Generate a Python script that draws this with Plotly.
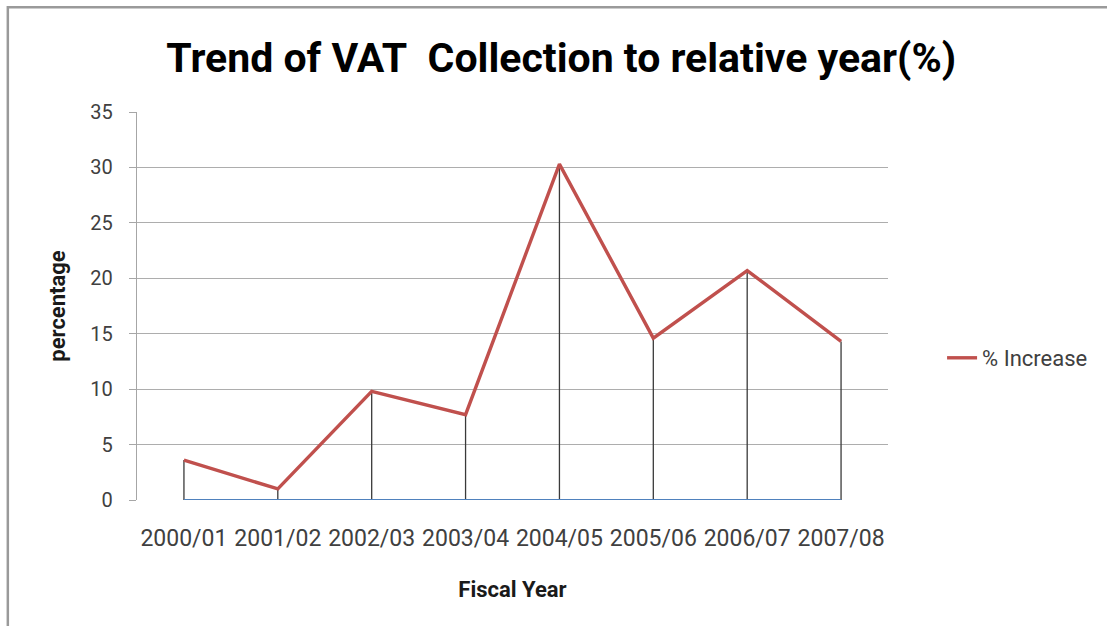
import plotly.graph_objects as go

years = ["2000/01", "2001/02", "2002/03", "2003/04", "2004/05", "2005/06", "2006/07", "2007/08"]
pct_increase = [3.6, 1.0, 9.8, 7.7, 30.3, 14.6, 20.7, 14.3]
y_ticks = [0, 5, 10, 15, 20, 25, 30, 35]

FONT = "Roboto, sans-serif"

# drop lines built from the data
drop_x, drop_y = [], []
for yr, v in zip(years, pct_increase):
    drop_x += [yr, yr, None]
    drop_y += [0, v, None]

fig = go.Figure()
fig.add_trace(go.Scatter(x=drop_x, y=drop_y, mode="lines",
                         line=dict(color="#3a3a3a", width=1.3),
                         showlegend=False, hoverinfo="skip"))
fig.add_trace(go.Scatter(x=years, y=[0] * len(years), mode="lines",
                         line=dict(color="#4F81BD", width=2),
                         showlegend=False, hoverinfo="skip"))
fig.add_trace(go.Scatter(x=years, y=pct_increase, mode="lines",
                         name="% Increase",
                         line=dict(color="#C0504D", width=3.4)))

fig.update_layout(
    width=1107, height=626,
    margin=dict(l=137, r=219, t=112, b=126),
    paper_bgcolor="white", plot_bgcolor="white",
    font=dict(family=FONT, color="#404040", size=20),
    title=dict(text="<b>Trend of VAT&nbsp; Collection to relative year(%)</b>",
               x=0.507, xref="container", xanchor="center",
               y=1 - 58 / 626, yref="container", yanchor="middle",
               font=dict(size=41, color="black", family=FONT)),
    xaxis=dict(type="category", range=[-0.5, 7.5], showgrid=False,
               showline=False, ticks="", zeroline=False,
               ticklabelstandoff=22,
               tickfont=dict(size=23, color="#404040"),
               title=dict(text="<b>Fiscal Year</b>", standoff=30,
                          font=dict(size=22, color="#1a1a1a"))),
    yaxis=dict(range=[0, 35], tickvals=y_ticks, showgrid=True,
               gridcolor="#ADADAD", gridwidth=1.3, zeroline=False,
               showline=True, linecolor="#A6A6A6", linewidth=1.3,
               ticks="outside", ticklen=7, tickcolor="#A6A6A6",
               ticklabelstandoff=12,
               tickfont=dict(size=20, color="#404040"),
               title=dict(text="<b>percentage</b>", standoff=18,
                          font=dict(size=22, color="#1a1a1a"))),
    legend=dict(x=1.072, xanchor="left", y=0.366, yanchor="middle",
                font=dict(size=22, color="#404040"), bgcolor="rgba(0,0,0,0)"),
    shapes=[dict(type="rect", xref="paper", yref="paper",
                 x0=-0.172, x1=1.4, y0=-0.4, y1=1.27,
                 line=dict(color="#9A9A9A", width=2.5), layer="below")],
)

fig.write_html("out.html")
